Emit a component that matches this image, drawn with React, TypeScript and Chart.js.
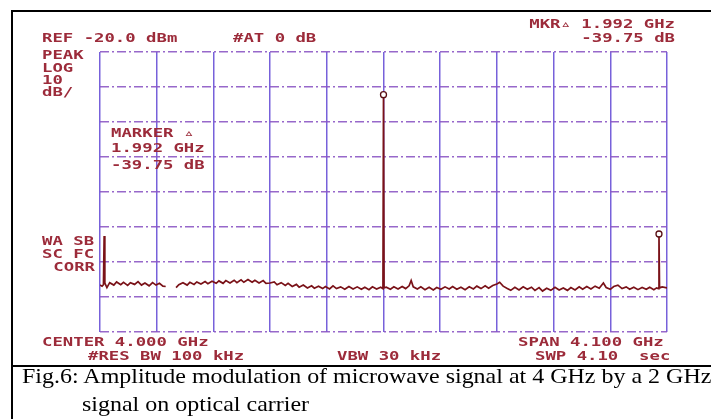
import React, { useEffect, useRef } from "react";
import { Chart, registerables } from "chart.js";

Chart.register(...registerables);

// Sweep: frequency (GHz) and measured level (dBm); null = trace gap
const freqGHz = [
  1.95, 1.965, 1.975, 1.98, 1.985, 2.0, 2.02, 2.05, 2.07, 2.1, 2.12, 2.15, 2.17, 2.2, 2.225, 2.25, 2.275, 2.305,
  2.33, 2.355, 2.38, 2.405, 2.425, 2.46, 2.5, 2.52, 2.55, 2.58, 2.6, 2.63, 2.65, 2.68, 2.71, 2.73, 2.76, 2.79,
  2.81, 2.84, 2.86, 2.89, 2.92, 2.94, 2.97, 2.99, 3.02, 3.05, 3.07, 3.1, 3.13, 3.15, 3.18, 3.21, 3.23, 3.26,
  3.29, 3.31, 3.34, 3.37, 3.39, 3.42, 3.45, 3.48, 3.5, 3.53, 3.56, 3.58, 3.61, 3.635, 3.66, 3.69, 3.72, 3.75,
  3.78, 3.81, 3.84, 3.865, 3.895, 3.92, 3.95, 3.98, 3.996, 4.0, 4.004, 4.02, 4.05, 4.075, 4.105, 4.135, 4.16,
  4.185, 4.2, 4.215, 4.245, 4.27, 4.3, 4.33, 4.36, 4.385, 4.415, 4.445, 4.475, 4.5, 4.53, 4.56, 4.59, 4.62,
  4.65, 4.675, 4.705, 4.735, 4.76, 4.79, 4.82, 4.84, 4.865, 4.895, 4.92, 4.95, 4.98, 5.01, 5.04, 5.07, 5.095,
  5.125, 5.15, 5.18, 5.21, 5.24, 5.27, 5.3, 5.33, 5.355, 5.385, 5.415, 5.44, 5.47, 5.5, 5.53, 5.56, 5.59, 5.61,
  5.64, 5.665, 5.695, 5.725, 5.755, 5.78, 5.81, 5.84, 5.87, 5.9, 5.925, 5.955, 5.975, 5.988, 5.992, 5.996,
  6.015, 6.05,
];
const levelDbm = [
  -86.6, -86.9, -86.5, -72.6, -86.0, -87.3, -85.9, -86.6, -85.7, -86.5, -85.8, -86.7, -85.9, -86.4, -85.6, -86.6,
  -86.0, -86.8, -85.9, -86.6, -86.1, -86.9, -87.0, null, -87.3, -86.5, -85.9, -86.6, -85.8, -86.4, -85.7, -86.3,
  -85.6, -86.2, -85.5, -86.1, -85.4, -86.1, -85.3, -86.0, -85.2, -85.9, -85.1, -85.8, -85.0, -85.8, -85.2,
  -86.0, -85.3, -86.1, -86.0, -85.7, -86.5, -85.9, -86.7, -86.1, -87.0, -86.4, -87.2, -86.6, -87.4, -86.8,
  -87.5, -86.9, -87.6, -87.0, -87.7, -86.8, -87.6, -87.1, -87.8, -87.0, -87.7, -87.1, -87.8, -87.2, -87.9,
  -87.1, -87.7, -87.2, -87.6, -32.2, -87.4, -87.2, -87.8, -87.1, -87.7, -87.0, -87.6, -86.8, -85.3, -87.1,
  -87.7, -87.1, -87.9, -87.2, -88.0, -87.3, -87.8, -87.1, -87.7, -87.0, -87.8, -87.2, -87.9, -87.1, -87.7,
  -86.9, -87.6, -86.8, -87.5, -86.7, -86.3, -85.8, -86.9, -87.6, -88.1, -87.2, -88.0, -87.1, -87.8, -87.2,
  -88.1, -87.3, -88.3, -87.5, -88.1, -87.2, -88.0, -87.4, -88.1, -87.3, -88.0, -87.1, -87.8, -87.0, -87.7,
  -86.9, -87.5, -86.0, -87.3, -87.8, -87.0, -86.6, -87.6, -87.1, -87.8, -87.2, -87.9, -87.3, -87.8, -87.2,
  -87.9, -87.4, -87.6, -72.0, -87.4, -87.1, -87.4,
];

// Markers (reference marker on carrier, delta marker on sideband)
const markerFreqGHz = [4.0, 5.992];
const markerLevelDbm = [-32.2, -72.0];

// Graticule
const xGridGHz = [1.95, 2.36, 2.77, 3.18, 3.59, 4.0, 4.41, 4.82, 5.23, 5.64, 6.05];
const yGridDbm = [-100, -90, -80, -70, -60, -50, -40, -30, -20];

// Instrument annotations
const refLabel = "REF -20.0 dBm";
const attLabel = "#AT 0 dB";
const mkrLine1 = "MKR\u25B5 1.992 GHz";
const mkrLine2 = "-39.75 dB";
const modeLabels = ["PEAK", "LOG", "10", "dB/"];
const markerBox = ["MARKER \u25B5", "1.992 GHz", "-39.75 dB"];
const flagLabels = ["WA SB", "SC FC"];
const corrLabel = "CORR";
const centerLabel = "CENTER 4.000 GHz";
const resLabel = "#RES BW 100 kHz";
const vbwLabel = "VBW 30 kHz";
const spanLabel = "SPAN 4.100 GHz";
const swpLabel = "SWP 4.10  sec";
const captionLine1 = "Fig.6: Amplitude modulation of microwave signal at 4 GHz by a 2 GHz";
const captionLine2 = "signal on optical carrier";

const TEXT_COLOR = "#9c2b3a";
const MONO_FONT = "bold 13px 'DejaVu Sans Mono'";
const STRETCH = 1.33;

function mono(ctx: CanvasRenderingContext2D, text: string, x: number, y: number, align: CanvasTextAlign = "left") {
  ctx.save();
  ctx.translate(x, y);
  ctx.scale(STRETCH, 1);
  ctx.font = MONO_FONT;
  ctx.fillStyle = TEXT_COLOR;
  ctx.textAlign = align;
  ctx.textBaseline = "alphabetic";
  ctx.fillText(text, 0, 0);
  ctx.restore();
}

const framePlugin = {
  id: "frameAndText",
  afterDraw(chart: any) {
    const ctx: CanvasRenderingContext2D = chart.ctx;
    ctx.save();
    ctx.fillStyle = "#000";
    ctx.fillRect(11, 10, 700, 2);
    ctx.fillRect(11, 10, 2, 409);
    ctx.fillRect(11, 365, 700, 2);
    ctx.restore();

    mono(ctx, refLabel, 42, 42);
    mono(ctx, attLabel, 233, 42);
    mono(ctx, mkrLine1, 675, 28, "right");
    mono(ctx, mkrLine2, 675, 42, "right");
    const modeY = [59, 72, 84, 96];
    modeLabels.forEach((t, i) => mono(ctx, t, 42, modeY[i]));
    const boxY = [137, 152, 169];
    markerBox.forEach((t, i) => mono(ctx, t, 111, boxY[i]));
    mono(ctx, flagLabels[0], 42, 245);
    mono(ctx, flagLabels[1], 42, 258);
    mono(ctx, corrLabel, 95, 271, "right");
    mono(ctx, centerLabel, 42, 346);
    mono(ctx, resLabel, 88, 360);
    mono(ctx, vbwLabel, 337, 360);
    mono(ctx, spanLabel, 518, 346);
    mono(ctx, swpLabel, 535, 360);
  },
};

export default function App() {
  const canvasRef = useRef<HTMLCanvasElement | null>(null);

  useEffect(() => {
    const canvas = canvasRef.current;
    if (!canvas) return;
    const trace = freqGHz.map((f, i) => ({ x: f, y: levelDbm[i] }));
    const markers = markerFreqGHz.map((f, i) => ({ x: f, y: markerLevelDbm[i] }));
    const chart = new Chart(canvas, {
      type: "line",
      data: {
        datasets: [
          {
            label: "markers",
            data: markers,
            showLine: false,
            pointRadius: 3,
            pointBackgroundColor: "#ffffff",
            pointBorderColor: "#5a0f14",
            pointBorderWidth: 1.3,
            order: 0,
          },
          {
            label: "trace",
            data: trace as any,
            borderColor: "#7a1218",
            borderWidth: 1.7,
            pointRadius: 0,
            tension: 0,
            spanGaps: false,
            order: 1,
          },
        ],
      },
      options: {
        animation: false,
        responsive: false,
        maintainAspectRatio: false,
        devicePixelRatio: 1,
        layout: { padding: { left: 100, top: 52, right: 44, bottom: 87 } },
        plugins: { legend: { display: false }, tooltip: { enabled: false } },
        scales: {
          x: {
            type: "linear",
            min: 1.95,
            max: 6.05,
            afterBuildTicks: (s: any) => {
              s.ticks = xGridGHz.map((v) => ({ value: v }));
            },
            ticks: { display: false },
            grid: { color: "rgba(104,80,214,0.9)", lineWidth: 1.5, drawTicks: false },
            border: { display: false },
          },
          y: {
            type: "linear",
            min: -100,
            max: -20,
            afterBuildTicks: (s: any) => {
              s.ticks = yGridDbm.map((v) => ({ value: v }));
            },
            ticks: { display: false },
            grid: { color: "rgba(140,88,196,0.9)", lineWidth: 1.5, drawTicks: false },
            border: { display: false, dash: [9, 3, 2, 3] },
          },
        },
      },
      plugins: [framePlugin],
    });
    return () => chart.destroy();
  }, []);

  const captionStyle: React.CSSProperties = {
    position: "absolute",
    fontFamily: "'Liberation Serif', 'Times New Roman', serif",
    fontSize: "21px",
    lineHeight: "21px",
    color: "#000",
    whiteSpace: "nowrap",
    transform: "scaleX(1.142)",
    transformOrigin: "left top",
  };

  return (
    <div
      style={{
        position: "absolute",
        left: 0,
        top: 0,
        width: 711,
        height: 419,
        overflow: "hidden",
        background: "#fff",
      }}
    >
      <canvas ref={canvasRef} width={711} height={419} style={{ display: "block" }} />
      <div style={{ ...captionStyle, left: 22, top: 366 }}>{captionLine1}</div>
      <div style={{ ...captionStyle, left: 82, top: 394 }}>{captionLine2}</div>
    </div>
  );
}
